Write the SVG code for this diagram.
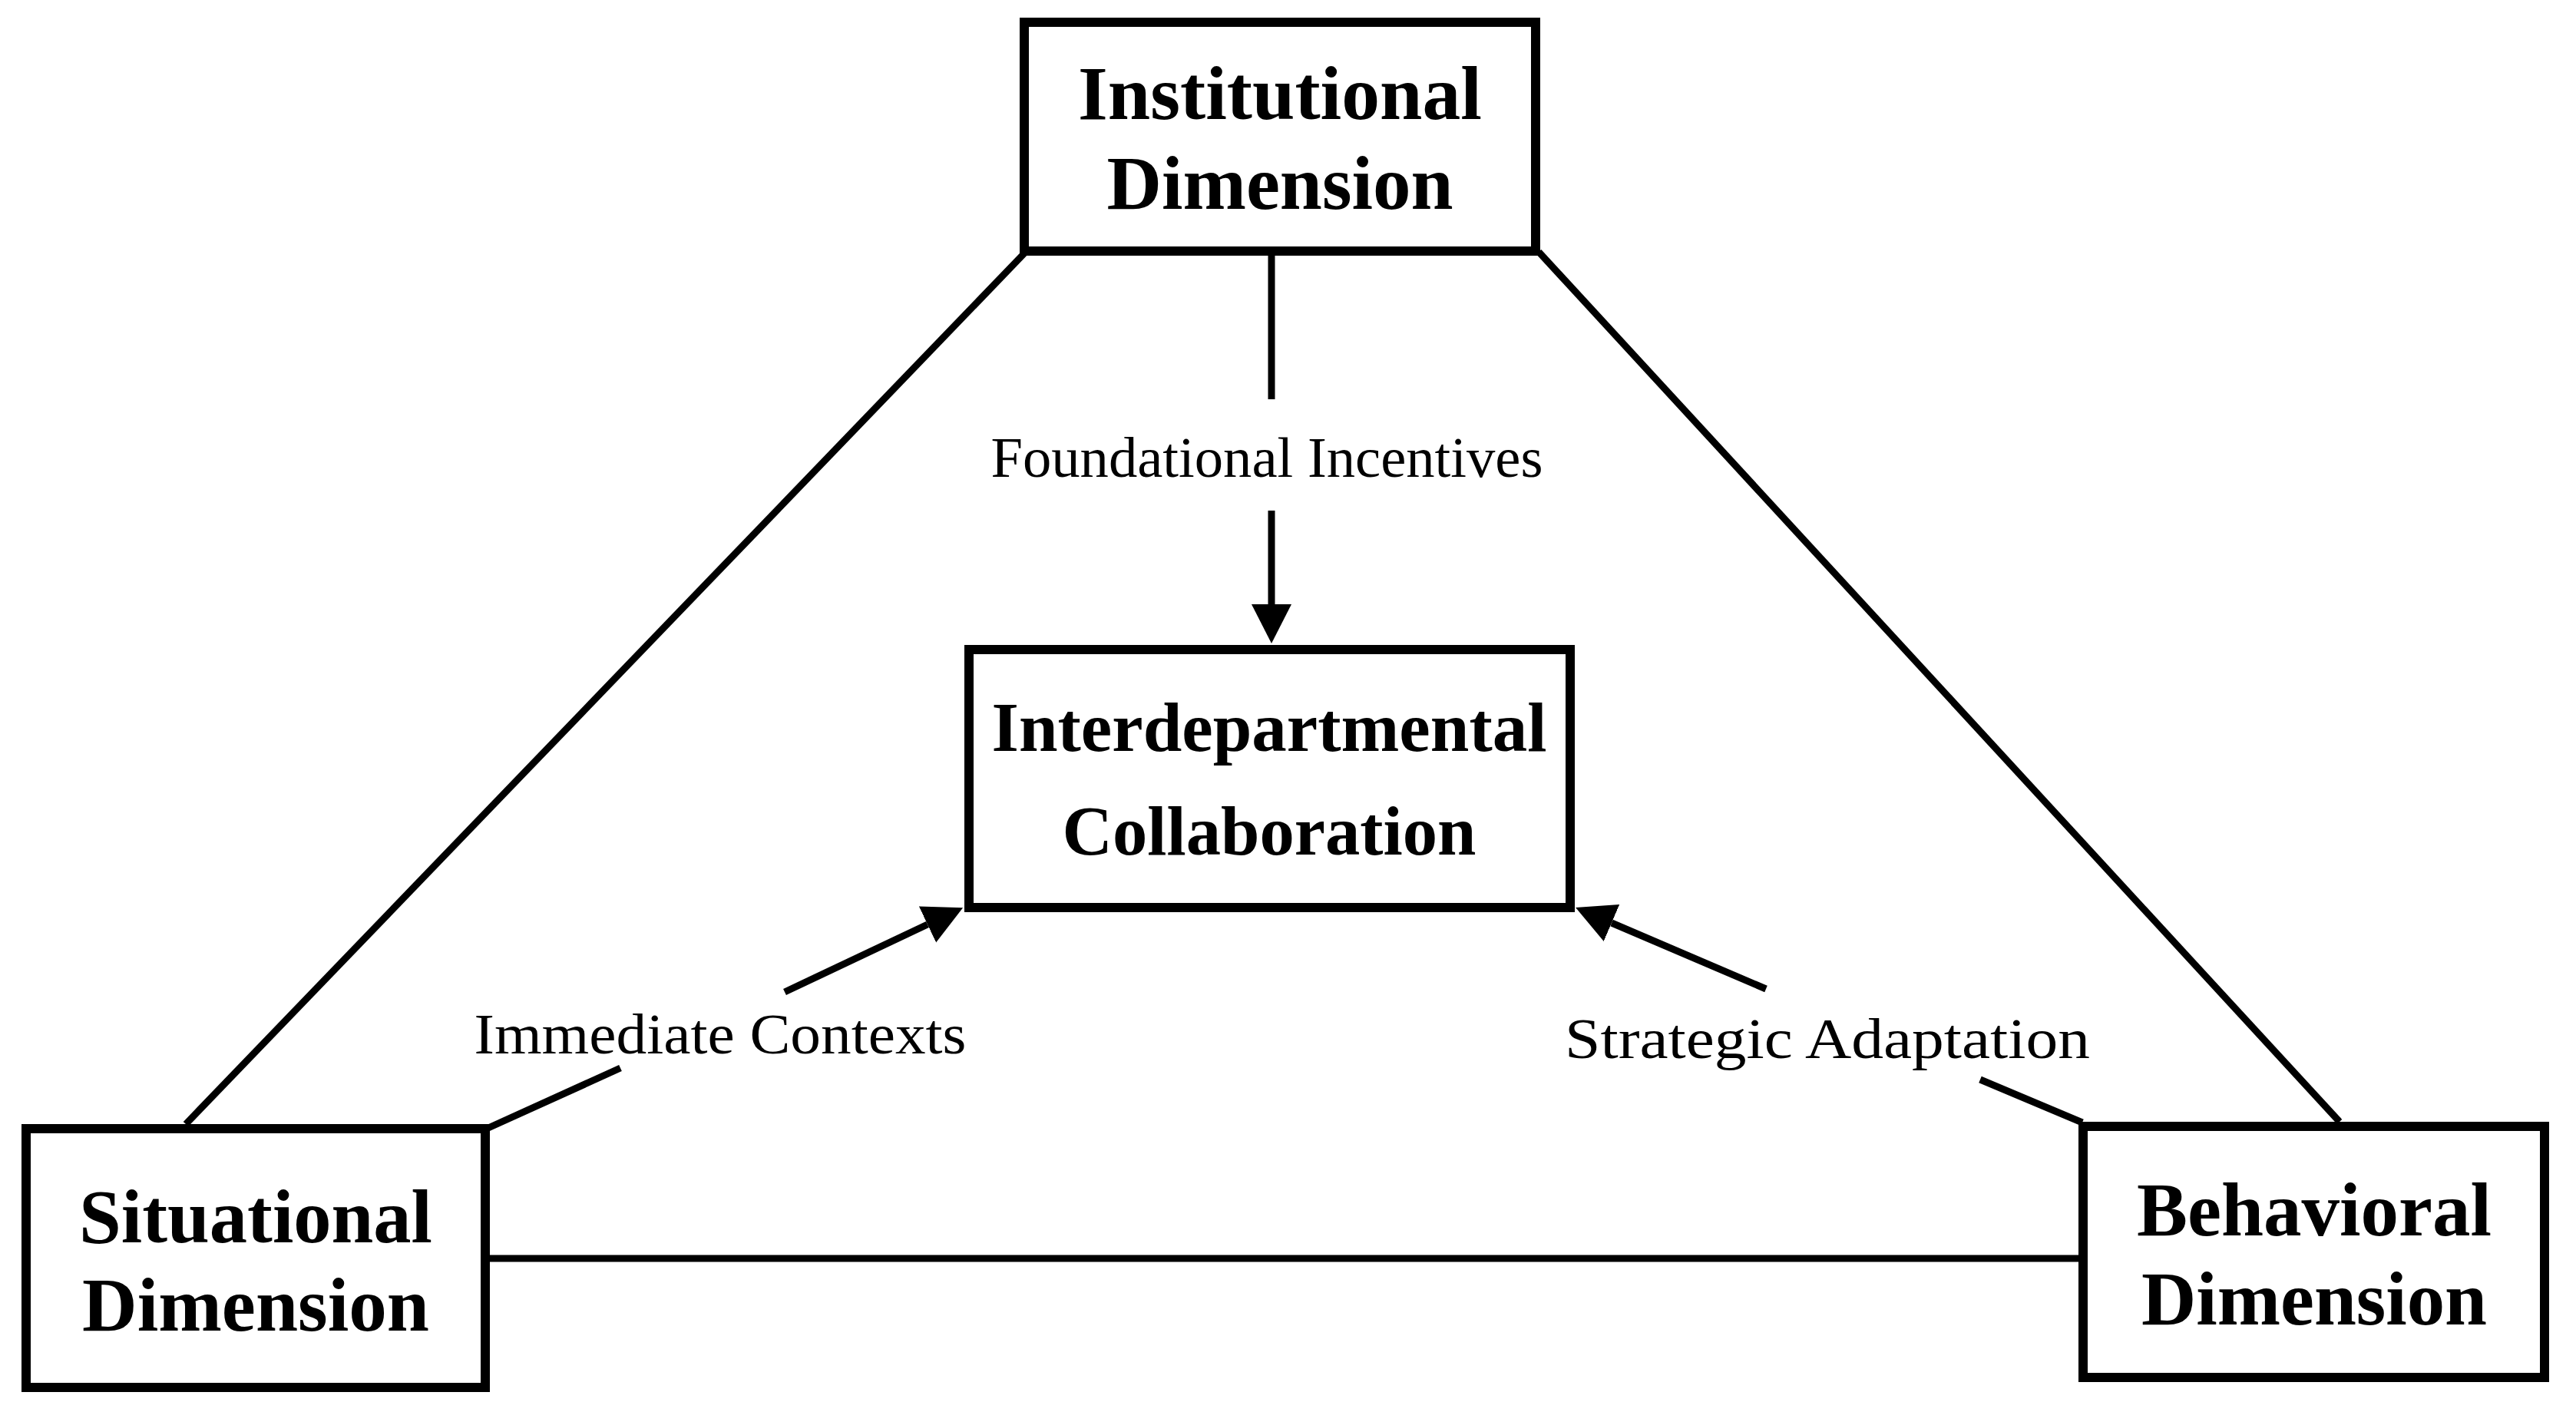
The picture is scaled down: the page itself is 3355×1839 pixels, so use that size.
<svg xmlns="http://www.w3.org/2000/svg" width="3355" height="1839" viewBox="0 0 3355 1839">
<style>
.box{fill:#fff;stroke:#000;stroke-width:12}
.nt{font-family:"Liberation Serif","Times New Roman",serif;font-weight:bold;text-anchor:middle;fill:#000}
.lbl{font-family:"Liberation Serif","Times New Roman",serif;font-size:75px;text-anchor:middle;fill:#000}
.ln{stroke:#000;stroke-width:9;fill:none}
</style>
<defs>
<marker id="ah" markerUnits="userSpaceOnUse" markerWidth="52" markerHeight="54" refX="0" refY="26" orient="auto">
<path d="M0,0 L51,26 L0,52 z" fill="#000"/>
</marker>
</defs>
<rect width="3355" height="1839" fill="#fff"/>
<g id="connectors">
<line class="ln" x1="1334" y1="330" x2="242" y2="1464"/>
<line class="ln" x1="2004" y1="328" x2="3047" y2="1461"/>
<line class="ln" x1="638" y1="1639" x2="2707" y2="1639"/>
<line class="ln" x1="1656" y1="333" x2="1656" y2="520"/>
<line class="ln" x1="1656" y1="665" x2="1656" y2="787" marker-end="url(#ah)"/>
<line class="ln" x1="636" y1="1469" x2="808" y2="1391"/>
<line class="ln" x1="1022" y1="1292" x2="1208" y2="1204" marker-end="url(#ah)"/>
<line class="ln" x1="2712" y1="1462" x2="2579" y2="1406"/>
<line class="ln" x1="2300" y1="1288" x2="2099" y2="1202" marker-end="url(#ah)"/>
<text class="lbl" x="1650" y="621" textLength="719" lengthAdjust="spacingAndGlyphs">Foundational Incentives</text>
<text class="lbl" x="938" y="1372" textLength="641" lengthAdjust="spacingAndGlyphs">Immediate Contexts</text>
<text class="lbl" x="2380" y="1378" textLength="684" lengthAdjust="spacingAndGlyphs">Strategic Adaptation</text>
</g>
<g id="institutional">
<rect class="box" x="1334" y="29" width="666" height="298"/>
<text class="nt" font-size="100" x="1667" y="155" textLength="526" lengthAdjust="spacingAndGlyphs">Institutional</text>
<text class="nt" font-size="100" x="1667" y="272" textLength="451" lengthAdjust="spacingAndGlyphs">Dimension</text>
</g>
<g id="interdepartmental">
<rect class="box" x="1262" y="846" width="783" height="336"/>
<text class="nt" font-size="91" x="1653" y="978" textLength="723" lengthAdjust="spacingAndGlyphs">Interdepartmental</text>
<text class="nt" font-size="91" x="1653" y="1113" textLength="539" lengthAdjust="spacingAndGlyphs">Collaboration</text>
</g>
<g id="situational">
<rect class="box" x="34" y="1470" width="598" height="337"/>
<text class="nt" font-size="99" x="333" y="1618" textLength="460" lengthAdjust="spacingAndGlyphs">Situational</text>
<text class="nt" font-size="99" x="333" y="1733" textLength="452" lengthAdjust="spacingAndGlyphs">Dimension</text>
</g>
<g id="behavioral">
<rect class="box" x="2713" y="1467" width="601" height="327"/>
<text class="nt" font-size="99" x="3014" y="1609" textLength="462" lengthAdjust="spacingAndGlyphs">Behavioral</text>
<text class="nt" font-size="99" x="3014" y="1725" textLength="450" lengthAdjust="spacingAndGlyphs">Dimension</text>
</g>
</svg>
